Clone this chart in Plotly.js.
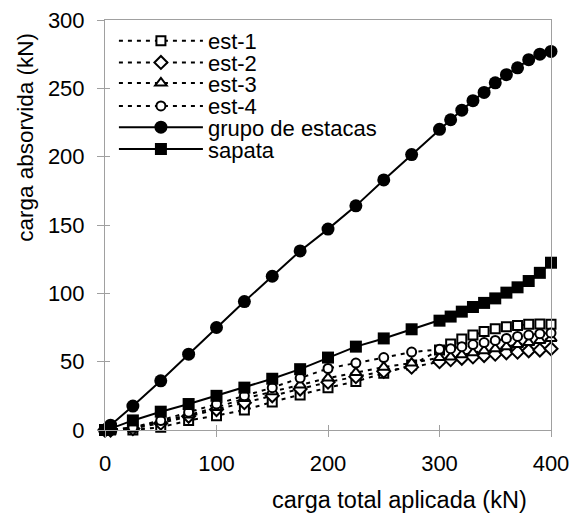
<!DOCTYPE html>
<html>
<head>
<meta charset="utf-8">
<script src="https://cdn.plot.ly/plotly-3.0.1.min.js"></script>
<style>html,body{margin:0;padding:0;background:#fff;}#chart{width:573px;height:515px;}</style>
</head>
<body>
<div id="chart"></div>
<script>
// data
const cargaTotal = [0, 5, 25, 50, 75, 100, 125, 150, 175, 200, 225, 250, 275, 300, 310, 320, 330, 340, 350, 360, 370, 380, 390, 400];
const est1 = [0, 0, 0, 2, 7, 10.5, 14.6, 20.5, 25.6, 31, 35.5, 41.5, 47.5, 58.5, 63, 66.5, 69.5, 72, 74, 75.5, 76.5, 77.3, 77.5, 77.3];
const est2 = [0, 0, 1, 5, 10, 15, 20, 25, 30, 35, 39, 43, 46, 50, 51.5, 52.5, 53.5, 54.5, 55.5, 56.5, 57, 58, 58.5, 59.5];
const est3 = [0, 0, 1.5, 6, 11, 16.5, 23, 28, 33, 38, 42, 46, 49, 53, 53.5, 55, 56.5, 58, 59.5, 61, 62.5, 64, 65.5, 67];
const est4 = [0, 0, 2, 7, 13, 19, 25, 31, 38, 45, 49, 53, 57, 59, 59.5, 61, 62.5, 64, 65.5, 67, 68.5, 69.5, 70.5, 71];
const grupo = [0, 3.5, 17.5, 36, 55.5, 75, 94, 112.5, 131, 147, 164, 183, 201.5, 220, 227, 234, 241, 247, 254, 260, 265, 271, 275, 277];
const sapata = [0, 1, 7, 13.4, 19, 25, 31, 37.5, 44.5, 53, 61, 67, 73.7, 80, 83, 86.6, 90, 93, 96.3, 100.5, 104.4, 109, 115, 122.4];
const seriesNames = ['est-1', 'est-2', 'est-3', 'est-4', 'grupo de estacas', 'sapata'];
const xTicks = [0, 100, 200, 300, 400];
const yTicks = [0, 50, 100, 150, 200, 250, 300];

const FONT = 'Liberation Sans, Arial, sans-serif';
const AX = '#a0a0a0';

function est(y, name, sym, size, lg) {
  return {x: cargaTotal, y: y, name: name, type: 'scatter', mode: 'lines+markers', cliponaxis: false,
    line: {color: '#000', width: 2, dash: '4px,5px'},
    marker: {symbol: sym, size: size, color: '#fff', line: {color: '#000', width: 2}},
    legend: lg};
}
const traces = [
  est(est1, seriesNames[0], 'square', 9, 'legend'),
  est(est2, seriesNames[1], 'diamond', 10, 'legend2'),
  est(est3, seriesNames[2], 'triangle-up', 10, 'legend3'),
  est(est4, seriesNames[3], 'circle', 9, 'legend4'),
  {x: cargaTotal, y: grupo, name: seriesNames[4], type: 'scatter', mode: 'lines+markers', cliponaxis: false,
   line: {color: '#000', width: 2}, marker: {symbol: 'circle', size: 13, color: '#000'}, legend: 'legend5'},
  {x: cargaTotal, y: sapata, name: seriesNames[5], type: 'scatter', mode: 'lines+markers', cliponaxis: false,
   line: {color: '#000', width: 2}, marker: {symbol: 'square', size: 12, color: '#000'}, legend: 'legend6'},
  {x: [0], y: [0], xaxis: 'x2', yaxis: 'y2', mode: 'markers', marker: {opacity: 0}, showlegend: false, hoverinfo: 'skip'}
];

const legY = [0.949, 0.896, 0.846, 0.790, 0.738, 0.685];
function leg(i) {
  return {x: 0.02, xanchor: 'left', y: legY[i], yanchor: 'middle', bgcolor: 'rgba(0,0,0,0)',
    font: {family: FONT, size: 22, color: '#000'}, itemwidth: 84, borderwidth: 0};
}

const layout = {
  width: 573, height: 515,
  margin: {l: 105, r: 22, t: 20, b: 85},
  paper_bgcolor: '#fff', plot_bgcolor: '#fff',
  font: {family: FONT, size: 22, color: '#000'},
  xaxis: {range: [0, 400], tickvals: xTicks, ticktext: xTicks.map(String), showgrid: false, zeroline: false,
    showline: true, linecolor: AX, linewidth: 1, mirror: true, ticks: 'outside', ticklen: 6, tickcolor: AX,
    tickfont: {family: FONT, size: 22}, ticklabelstandoff: 8},
  yaxis: {range: [0, 300], tickvals: yTicks, ticktext: yTicks.map(String), showgrid: false, zeroline: false,
    showline: true, linecolor: AX, linewidth: 1, mirror: true, ticks: 'outside', ticklen: 7, tickcolor: AX,
    tickfont: {family: FONT, size: 22}, ticklabelstandoff: 8},
  xaxis2: {overlaying: 'x', anchor: 'y2', range: [0, 400], tickvals: xTicks, showticklabels: false, showgrid: false,
    zeroline: false, ticks: 'inside', ticklen: 5, tickcolor: AX, showline: false},
  yaxis2: {overlaying: 'y', anchor: 'x2', range: [0, 300], tickvals: yTicks, showticklabels: false, showgrid: false,
    zeroline: false, ticks: 'inside', ticklen: 5, tickcolor: AX, showline: false},
  legend: leg(0), legend2: leg(1), legend3: leg(2), legend4: leg(3), legend5: leg(4), legend6: leg(5),
  annotations: [
    {text: 'carga total aplicada (kN)', xref: 'paper', yref: 'paper', x: 0.661, y: -0.171,
     xanchor: 'center', yanchor: 'middle', showarrow: false, font: {family: FONT, size: 23.5, color: '#000'}},
    {text: 'carga absorvida (kN)', xref: 'paper', yref: 'paper', x: -0.178, y: 0.714, textangle: -90,
     xanchor: 'center', yanchor: 'middle', showarrow: false, font: {family: FONT, size: 22.5, color: '#000'}}
  ]
};
Plotly.newPlot('chart', traces, layout, {displayModeBar: false, staticPlot: true});
</script>
</body>
</html>
